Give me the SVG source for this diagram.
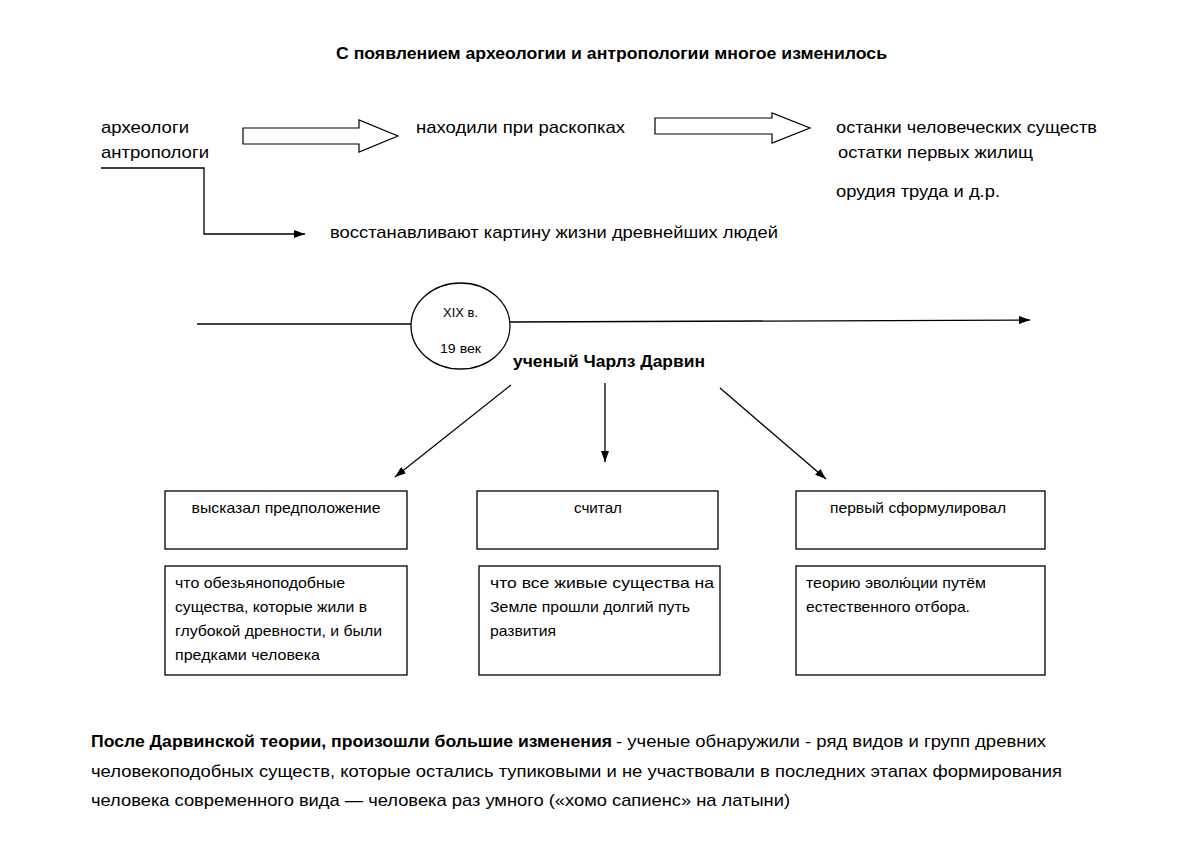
<svg xmlns="http://www.w3.org/2000/svg" width="1200" height="849" viewBox="0 0 1200 849">
<style>
text{font-family:"Liberation Sans",Arial,sans-serif;fill:#000}
.t{font-size:17px}
.s{font-size:14.5px}
.e{font-size:13px}
.b{font-weight:bold}
.box{fill:#fff;stroke:#000;stroke-width:1.3}
.ln{fill:none;stroke:#000;stroke-width:1.3}
.hol{fill:#fff;stroke:#000;stroke-width:1.2}
</style>
<defs>
<marker id="ah" viewBox="0 0 11 8" refX="11" refY="4" markerWidth="11" markerHeight="8" markerUnits="userSpaceOnUse" orient="auto">
<path d="M0,0 L11,4 L0,8 z" fill="#000"/>
</marker>
</defs>
<rect width="1200" height="849" fill="#fff"/>

<g id="title">
<text class="t b" x="336" y="59" textLength="551" lengthAdjust="spacingAndGlyphs">С появлением археологии и антропологии многое изменилось</text>
</g>

<g id="scientists">
<text class="t" x="101" y="133" textLength="88" lengthAdjust="spacingAndGlyphs">археологи</text>
<text class="t" x="101" y="158" textLength="108" lengthAdjust="spacingAndGlyphs">антропологи</text>
</g>
<g id="found">
<text class="t" x="416" y="133" textLength="209" lengthAdjust="spacingAndGlyphs">находили при раскопках</text>
</g>
<g id="remains">
<text class="t" x="836" y="133" textLength="261" lengthAdjust="spacingAndGlyphs">останки человеческих существ</text>
<text class="t" x="838" y="158" textLength="195" lengthAdjust="spacingAndGlyphs">остатки первых жилищ</text>
<text class="t" x="836" y="197" textLength="164" lengthAdjust="spacingAndGlyphs">орудия труда и д.р.</text>
</g>
<g id="restore">
<text class="t" x="330" y="238" textLength="448" lengthAdjust="spacingAndGlyphs">восстанавливают картину жизни древнейших людей</text>
</g>

<g id="era">
<ellipse cx="460.5" cy="326" rx="49.5" ry="43" class="box"/>
<text class="e" x="460.5" y="317" text-anchor="middle" textLength="35" lengthAdjust="spacingAndGlyphs">XIX в.</text>
<text class="e" x="460.5" y="353" text-anchor="middle" textLength="41" lengthAdjust="spacingAndGlyphs">19 век</text>
</g>
<g id="darwin">
<text class="t b" x="513" y="367" textLength="192" lengthAdjust="spacingAndGlyphs">ученый Чарлз Дарвин</text>
</g>

<g id="box1">
<rect x="165" y="491" width="242" height="58" class="box"/>
<text class="s" x="286" y="513" text-anchor="middle" textLength="189" lengthAdjust="spacingAndGlyphs">высказал предположение</text>
</g>
<g id="box2">
<rect x="477" y="491" width="241" height="58" class="box"/>
<text class="s" x="598" y="513" text-anchor="middle" textLength="48" lengthAdjust="spacingAndGlyphs">считал</text>
</g>
<g id="box3">
<rect x="796" y="491" width="249" height="58" class="box"/>
<text class="s" x="918" y="513" text-anchor="middle" textLength="176" lengthAdjust="spacingAndGlyphs">первый сформулировал</text>
</g>
<g id="box4">
<rect x="165" y="566" width="242" height="109" class="box"/>
<text class="s" x="175" y="588" textLength="170" lengthAdjust="spacingAndGlyphs">что обезьяноподобные</text>
<text class="s" x="175" y="612" textLength="192" lengthAdjust="spacingAndGlyphs">существа, которые жили в</text>
<text class="s" x="175" y="636" textLength="207" lengthAdjust="spacingAndGlyphs">глубокой древности, и были</text>
<text class="s" x="175" y="660" textLength="145" lengthAdjust="spacingAndGlyphs">предками человека</text>
</g>
<g id="box5">
<rect x="479" y="566" width="241" height="109" class="box"/>
<text class="s" x="490" y="588" textLength="224" lengthAdjust="spacingAndGlyphs">что все живые существа на</text>
<text class="s" x="490" y="612" textLength="200" lengthAdjust="spacingAndGlyphs">Земле прошли долгий путь</text>
<text class="s" x="490" y="636" textLength="66" lengthAdjust="spacingAndGlyphs">развития</text>
</g>
<g id="box6">
<rect x="796" y="566" width="249" height="109" class="box"/>
<text class="s" x="806" y="588" textLength="180" lengthAdjust="spacingAndGlyphs">теорию эволю́ции путём</text>
<text class="s" x="806" y="612" textLength="164" lengthAdjust="spacingAndGlyphs">естественного отбора.</text>
</g>

<g id="paragraph">
<text class="t b" x="91" y="747" textLength="521" lengthAdjust="spacingAndGlyphs">После Дарвинской теории, произошли большие изменения</text>
<text class="t" x="616" y="747" textLength="430" lengthAdjust="spacingAndGlyphs">- ученые обнаружили - ряд видов и групп древних</text>
<text class="t" x="91" y="777" textLength="971" lengthAdjust="spacingAndGlyphs">человекоподобных существ, которые остались тупиковыми и не участвовали в последних этапах формирования</text>
<text class="t" x="91" y="806" textLength="699" lengthAdjust="spacingAndGlyphs">человека современного вида — человека раз умного («хомо сапиенс» на латыни)</text>
</g>

<g id="connectors">
<path class="hol" d="M243,128 L359,128 L359,120 L398,136 L359,152 L359,144 L243,144 Z"/>
<path class="hol" d="M655,118 L772,118 L772,113 L810,128 L772,143 L772,134 L655,134 Z"/>
<path class="ln" d="M101,168 L204,168 L204,234 L305,234" marker-end="url(#ah)"/>
<line class="ln" x1="197" y1="324" x2="411" y2="324"/>
<line class="ln" x1="510" y1="322" x2="1030" y2="320" marker-end="url(#ah)"/>
<line class="ln" x1="511" y1="385" x2="395" y2="477" marker-end="url(#ah)"/>
<line class="ln" x1="605" y1="383" x2="605" y2="462" marker-end="url(#ah)"/>
<line class="ln" x1="720" y1="388" x2="826" y2="479" marker-end="url(#ah)"/>
</g>
</svg>
